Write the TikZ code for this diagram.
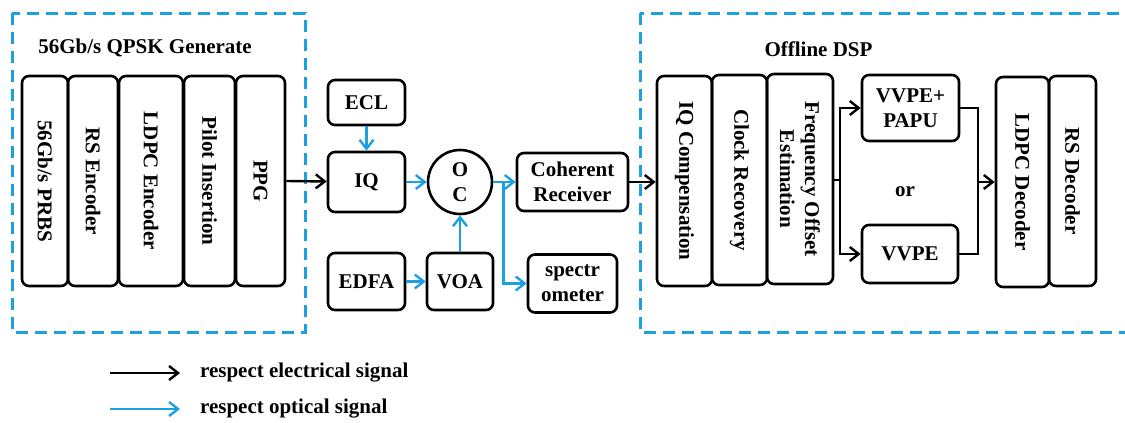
\documentclass[tikz,border=0pt]{standalone}
\usepackage{fontspec}
\setmainfont{Liberation Serif}
\usetikzlibrary{arrows.meta}
\definecolor{optblue}{RGB}{27,161,226}
\newdimen\px \px=0.5pt

\begin{document}
\begin{tikzpicture}[x=0.5pt,y=-0.5pt,
  font=\fontsize{10.5}{12.5}\selectfont\bfseries,
  box/.style={draw,line width=1.3pt,rounded corners=3.5pt,align=center,inner sep=1pt},
  bar/.style={box,rotate=-90,minimum width=210\px},
  elec/.style={line width=1.2pt,-{Straight Barb[length=4.5pt,width=7pt,line width=1.2pt]}},
  opt/.style={elec,optblue},
  group/.style={optblue,line width=1.5pt,dash pattern=on 6pt off 3.5pt}]
\clip (0,0) rectangle (1125,423);
% Heights of the boxes in the middle
\def\h{58\px}
\def\w{77\px}

% Transmitter side
\draw[group] (12,13) rectangle (305,332);
\node (txtitle) at (145,48) {56Gb/s QPSK Generate};
\node[bar,minimum height=46\px] (prbs) at (45,181) {56Gb/s PRBS};
\node[bar,minimum height=50\px] (rsenc) at (93,181) {RS Encoder};
\node[bar,minimum height=64\px] (ldpcenc) at (151,181) {LDPC Encoder};
\node[bar,minimum height=51\px] (pilot) at (209.5,181) {Pilot Insertion};
\node[bar,minimum height=49\px] (ppg) at (260.5,181) {PPG};

% Optical part
\node[box,minimum width=\w,minimum height=45\px] (ecl) at (366.5,102.5) {ECL};
\node[box,minimum width=\w,minimum height=60\px] (iq) at (366.5,182) {IQ};
\node[draw,circle,line width=1.3pt,minimum size=64\px,inner sep=0pt,align=center] (oc) at (460,182) {O\\C};
\node[box,minimum width=111\px,minimum height=\h] (coh) at (572.5,182) {Coherent\\Receiver};
\node[box,minimum width=\w,minimum height=57\px] (edfa) at (366.5,281.5) {EDFA};
\node[box,minimum width=66\px,minimum height=57\px] (voa) at (460,281.5) {VOA};
\node[box,minimum width=89\px,minimum height=\h] (spec) at (572.5,283.5) {spectr\\ometer};

\draw[elec] (ppg.north) -- (iq);
\draw[opt] (ecl) -- (iq);
\draw[opt] (iq) -- (oc);
\draw[opt] (edfa) -- (voa);
\draw[opt] (voa) -- (oc);
\coordinate (split) at ([xshift=10\px]oc.east);
\draw[opt] (oc) -- (coh);
\draw[opt] (split) |- (spec);

% Receiver side
\draw[group] (640,13) rectangle (1140,332);
\node (rxtitle) at (818.5,49) {Offline DSP};
\node[bar,minimum height=55\px] (iqcomp) at (684.5,181) {IQ Compensation};
\node[bar,minimum height=55\px] (clock) at (739.5,180) {Clock Recovery};
\node[bar,minimum height=66\px] (foe) at (800,179) {Frequency Offset\\Estimation};
\node[box,minimum width=97\px,minimum height=66\px] (papu) at (910.5,108) {VVPE+\\PAPU};
\node[box,minimum width=96\px,minimum height=\h] (vvpe) at (910,254) {VVPE};
\node (or) at (905,192) {or};
\node[bar,minimum height=53\px] (ldpcdec) at (1022.5,182) {LDPC Decoder};
\node[bar,minimum height=47\px] (rsdec) at (1072.5,181) {RS Decoder};

\draw[elec] (coh) -- (coh -| iqcomp.south);
\coordinate (fork) at (840,180);
\coordinate (join) at (978,182);
\draw[line width=1.2pt] (foe.north |- fork) -- (fork);
\draw[elec] (fork) |- (papu);
\draw[elec] (fork) |- (vvpe);
\draw[line width=1.2pt] (papu) -| (join);
\draw[line width=1.2pt] (vvpe) -| (join);
\draw[elec] (join) -- (join -| ldpcdec.south);

% Legend
\coordinate (e1) at (110,373);
\coordinate (e2) at (180,373);
\coordinate (o1) at (110,409);
\coordinate (o2) at (180,409);
\draw[elec] (e1) -- (e2);
\draw[opt] (o1) -- (o2);
\node[anchor=west] (elabel) at (193,373) {respect electrical signal};
\node[anchor=west] (olabel) at (193,409) {respect optical signal};

\end{tikzpicture}
\end{document}
